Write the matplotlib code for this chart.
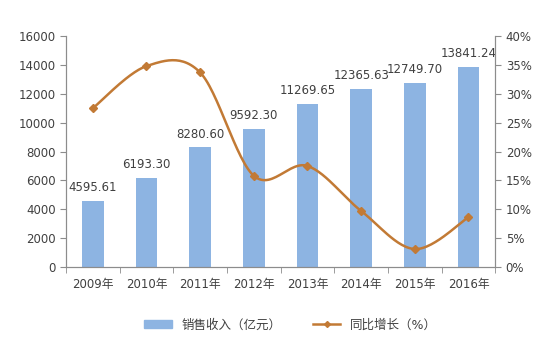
import matplotlib.pyplot as plt
import numpy as np

plt.rcParams['font.family'] = ['DejaVu Sans', 'Noto Sans CJK SC']

years = ['2009年', '2010年', '2011年', '2012年', '2013年', '2014年', '2015年', '2016年']
revenue = [4595.61, 6193.30, 8280.60, 9592.30, 11269.65, 12365.63, 12749.70, 13841.24]
growth = [27.5, 34.8, 33.7, 15.8, 17.5, 9.7, 3.1, 8.6]

bar_color = '#8DB4E2'
line_color = '#C27A35'
text_color = '#404040'
axis_color = '#8C8C8C'

fig = plt.figure(figsize=(5.59, 3.54), dpi=100)
ax = fig.add_axes([0.118, 0.246, 0.768, 0.652])
ax2 = ax.twinx()

x = np.arange(len(years))
ax.bar(x, revenue, width=0.4, color=bar_color, zorder=2)
for xi, v in zip(x, revenue):
    ax.annotate('%.2f' % v, (xi, v), xytext=(0, 5), textcoords='offset points',
                ha='center', va='bottom', fontsize=8.5, color=text_color)

# smooth line like excel (catmull-rom style bezier)
px = np.concatenate([[x[0]], x, [x[-1]]]).astype(float)
py = np.concatenate([[growth[0]], growth, [growth[-1]]])
sx, sy = [], []
t = np.linspace(0, 1, 30)
for i in range(1, len(px) - 2):
    p0 = np.array([px[i - 1], py[i - 1]])
    p1 = np.array([px[i], py[i]])
    p2 = np.array([px[i + 1], py[i + 1]])
    p3 = np.array([px[i + 2], py[i + 2]])
    c1 = p1 + (p2 - p0) / 6
    c2 = p2 - (p3 - p1) / 6
    for tt in t:
        b = ((1 - tt) ** 3) * p1 + 3 * ((1 - tt) ** 2) * tt * c1 + 3 * (1 - tt) * tt ** 2 * c2 + tt ** 3 * p2
        sx.append(b[0])
        sy.append(b[1])
ax2.plot(sx, sy, color=line_color, lw=1.8, zorder=3)
ax2.plot(x, growth, linestyle='none', marker='D', markersize=4, color=line_color, zorder=4)

ax.set_xlim(-0.5, len(years) - 0.5)
ax.set_ylim(0, 16000)
ax.set_yticks(np.arange(0, 16001, 2000))
ax2.set_ylim(0, 40)
ax2.set_yticks(np.arange(0, 41, 5))
ax2.set_yticklabels(['%d%%' % v for v in range(0, 41, 5)])

ax.set_xticks(x)
ax.set_xticklabels(years)
ax.set_xticks(np.arange(-0.5, len(years), 1), minor=True)
ax.tick_params(axis='x', which='major', length=0, pad=8, labelsize=8.5, colors=text_color)
ax.tick_params(axis='x', which='minor', length=4, color=axis_color)
ax.tick_params(axis='y', length=4, color=axis_color, labelsize=8.5, labelcolor=text_color)
ax2.tick_params(axis='y', length=4, color=axis_color, labelsize=8.5, labelcolor=text_color)

for a in (ax, ax2):
    a.spines['top'].set_visible(False)
    for s in ('left', 'right', 'bottom'):
        a.spines[s].set_color(axis_color)

from matplotlib.lines import Line2D
from matplotlib.patches import Patch
handles = [Patch(color=bar_color),
           Line2D([0], [0], color=line_color, lw=1.8, marker='D', markersize=3)]
fig.legend(handles, ['销售收入（亿元）', '同比增长（%）'], loc='center', bbox_to_anchor=(0.52, 0.082),
           ncol=2, frameon=False, fontsize=9, handlelength=2.2, columnspacing=2.5,
           labelcolor=text_color)

fig.savefig('out.png', dpi=100)
